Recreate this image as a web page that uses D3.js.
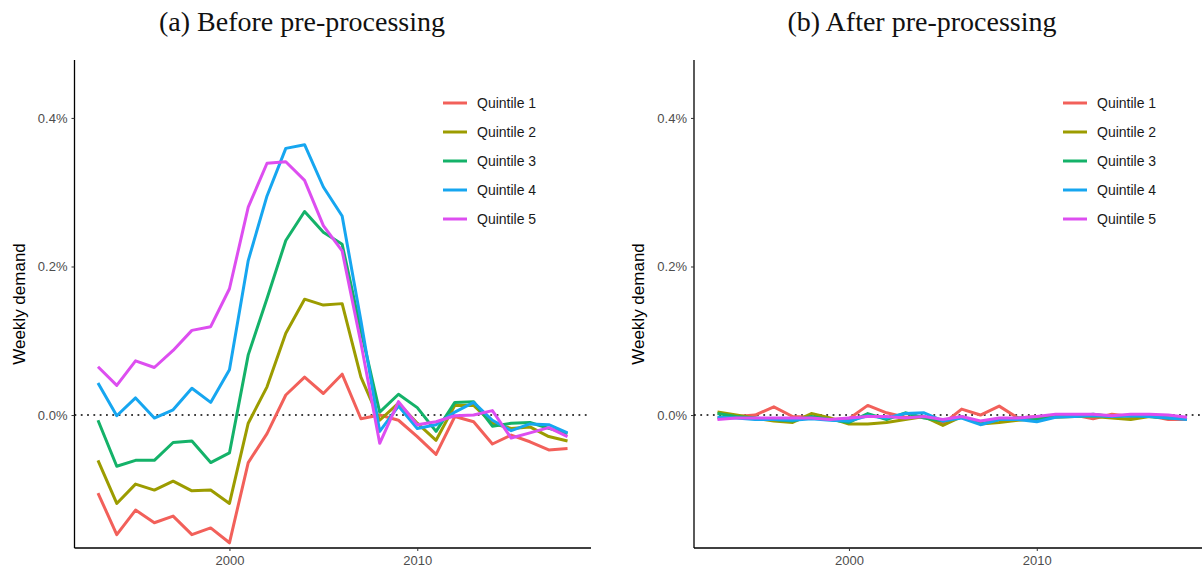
<!DOCTYPE html>
<html lang="en">
<head>
  <meta charset="UTF-8">
  <title>Weekly demand by quintile</title>
  <script src="https://d3js.org/d3.v7.min.js"></script>
  <style>
    body { margin: 0; background: #fff; }
    .tick text { font-family: "Liberation Sans", Arial, sans-serif; font-size: 13px; fill: #4d4d4d; }
    .legend text { font-family: "Liberation Sans", Arial, sans-serif; font-size: 14px; fill: #1a1a1a; }
    .title { font-family: "Liberation Serif", "DejaVu Serif", serif; font-size: 28px; fill: #111; }
    .ytitle { font-family: "Liberation Sans", Arial, sans-serif; font-size: 17px; fill: #000; }
    .series { fill: none; stroke-width: 3px; stroke-linejoin: round; }
  </style>
</head>
<body>
<svg width="1202" height="571" id="chart"></svg>

<script>
  const years = d3.range(1993, 2019);
  const seriesNames = ['Quintile 1', 'Quintile 2', 'Quintile 3', 'Quintile 4', 'Quintile 5'];
  const colors = ['#F2605A', '#9C9C00', '#14B269', '#16A6F0', '#DD4EF0'];
  const yTicks = [0, 0.2, 0.4];
  const xTicks = [2000, 2010];

  // (a) before pre-processing, values in %
  const beforeQ1 = [-0.105, -0.161, -0.128, -0.145, -0.136, -0.161, -0.152, -0.172, -0.064, -0.025, 0.027, 0.051, 0.029, 0.055,
    -0.005, 0.000, -0.007, -0.029, -0.053, -0.002, -0.009, -0.039, -0.027, -0.036, -0.047, -0.045];
  const beforeQ2 = [-0.061, -0.119, -0.093, -0.101, -0.089, -0.102, -0.101, -0.119, -0.011, 0.038, 0.110, 0.156, 0.148, 0.150,
    0.051, -0.007, 0.016, -0.011, -0.034, 0.013, 0.013, -0.011, -0.018, -0.016, -0.029, -0.035];
  const beforeQ3 = [-0.007, -0.069, -0.061, -0.061, -0.037, -0.035, -0.064, -0.051, 0.081, 0.157, 0.235, 0.274, 0.246, 0.230,
    0.114, 0.004, 0.028, 0.010, -0.022, 0.017, 0.018, -0.015, -0.011, -0.010, -0.018, -0.025];
  const beforeQ4 = [0.043, -0.001, 0.023, -0.004, 0.007, 0.036, 0.017, 0.061, 0.208, 0.295, 0.359, 0.364, 0.307, 0.268,
    0.127, -0.022, 0.012, -0.018, -0.013, 0.004, 0.017, -0.007, -0.021, -0.012, -0.013, -0.024];
  const beforeQ5 = [0.065, 0.040, 0.073, 0.064, 0.087, 0.114, 0.119, 0.170, 0.280, 0.339, 0.341, 0.316, 0.255, 0.221,
    0.097, -0.038, 0.018, -0.013, -0.009, -0.001, 0.000, 0.006, -0.031, -0.024, -0.017, -0.029];

  // (b) after pre-processing, values in %
  const afterQ1 = [-0.004, -0.002, 0.000, 0.011, -0.002, -0.003, -0.006, -0.005, 0.013, 0.003, -0.003, -0.002, -0.012, 0.008,
    0.000, 0.012, -0.004, -0.002, -0.002, 0.000, -0.005, 0.001, -0.002, -0.001, -0.006, -0.006];
  const afterQ2 = [0.004, 0.000, -0.004, -0.008, -0.010, 0.002, -0.004, -0.012, -0.012, -0.010, -0.006, -0.002, -0.014, -0.002,
    -0.012, -0.010, -0.007, -0.005, -0.003, -0.002, -0.002, -0.004, -0.006, -0.002, -0.004, -0.004];
  const afterQ3 = [0.002, -0.002, -0.004, -0.006, -0.008, -0.002, -0.006, -0.010, 0.002, -0.006, 0.003, -0.004, -0.008, -0.002,
    -0.012, -0.006, -0.004, -0.006, -0.002, -0.002, 0.001, -0.002, -0.001, -0.002, -0.004, -0.004];
  const afterQ4 = [-0.003, -0.004, -0.006, -0.006, -0.007, -0.005, -0.007, -0.008, -0.001, -0.004, 0.002, 0.003, -0.008, -0.004,
    -0.013, -0.006, -0.006, -0.009, -0.003, -0.002, -0.001, -0.002, -0.001, -0.002, -0.004, -0.006];
  const afterQ5 = [-0.006, -0.004, -0.004, -0.004, -0.004, -0.004, -0.006, -0.004, -0.002, -0.002, -0.004, -0.002, -0.006, -0.002,
    -0.008, -0.004, -0.004, -0.002, 0.001, 0.001, 0.001, -0.001, 0.001, 0.001, 0.000, -0.003];

  const panels = [
    { title: '(a) Before pre-processing', left: 74.5, right: 591, titleX: 302, legendX: 443,
      data: [beforeQ1, beforeQ2, beforeQ3, beforeQ4, beforeQ5] },
    { title: '(b) After pre-processing', left: 694, right: 1210.5, titleX: 922, legendX: 1063,
      data: [afterQ1, afterQ2, afterQ3, afterQ4, afterQ5] }
  ];

  const svg = d3.select('#chart');
  const plotTop = 60, plotBottom = 548;
  const y = d3.scaleLinear().domain([-0.179, 0.478]).range([plotBottom, plotTop]);

  panels.forEach(p => {
    const x = d3.scaleLinear().domain([1991.75, 2019.25]).range([p.left, p.right]);
    const g = svg.append('g');

    svg.append('text').attr('class', 'title')
      .attr('x', p.titleX).attr('y', 31)
      .attr('text-anchor', 'middle')
      .text(p.title);

    svg.append('text').attr('class', 'ytitle')
      .attr('transform', `translate(${p.left - 50},${(plotTop + plotBottom) / 2}) rotate(-90)`)
      .attr('text-anchor', 'middle')
      .text('Weekly demand');

    // zero reference line
    g.append('line')
      .attr('x1', p.left).attr('x2', p.right)
      .attr('y1', y(0)).attr('y2', y(0))
      .attr('stroke', '#000').attr('stroke-width', 1.6)
      .attr('stroke-dasharray', '1.8,4.5');

    const line = d3.line().x((d, i) => x(years[i])).y(d => y(d));
    g.selectAll('.series')
      .data(p.data)
      .enter()
      .append('path')
      .attr('class', 'series')
      .attr('stroke', (d, i) => colors[i])
      .attr('d', line);

    const yAxis = g.append('g')
      .attr('transform', `translate(${p.left},0)`)
      .call(d3.axisLeft(y).tickValues(yTicks).tickSize(3).tickPadding(4).tickFormat(d => d.toFixed(1) + '%'));
    yAxis.select('.domain').attr('stroke', '#000').attr('stroke-width', 1.3).attr('d', `M0,${plotTop}V${plotBottom}`);
    yAxis.selectAll('.tick line').attr('stroke', '#333');

    const xAxis = g.append('g')
      .attr('transform', `translate(0,${plotBottom})`)
      .call(d3.axisBottom(x).tickValues(xTicks).tickSize(3).tickPadding(5).tickFormat(d3.format('d')));
    xAxis.select('.domain').attr('stroke', '#000').attr('stroke-width', 1.3).attr('d', `M${p.left},0H${p.right}`);
    xAxis.selectAll('.tick line').attr('stroke', '#333');

    const legend = g.append('g').attr('class', 'legend');
    const items = legend.selectAll('g')
      .data(seriesNames)
      .enter()
      .append('g')
      .attr('transform', (d, i) => `translate(${p.legendX},${103 + i * 29})`);
    items.append('line')
      .attr('x1', 0).attr('x2', 24)
      .attr('stroke', (d, i) => colors[i])
      .attr('stroke-width', 3);
    items.append('text')
      .attr('x', 34).attr('dy', '0.35em')
      .text(d => d);
  });
</script>
</body>
</html>
